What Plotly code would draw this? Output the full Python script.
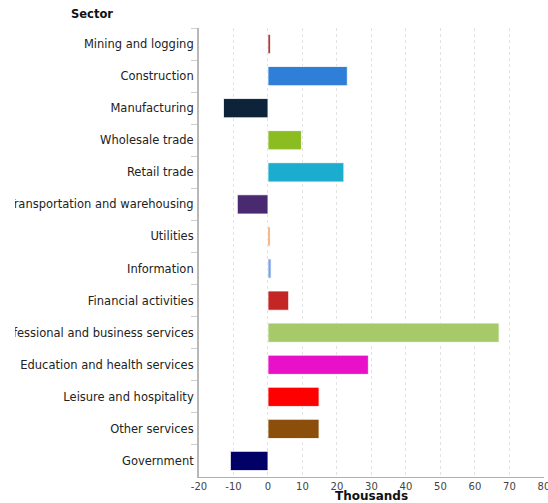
import plotly.graph_objects as go

sectors = ["Mining and logging", "Construction", "Manufacturing", "Wholesale trade",
           "Retail trade", "Transportation and warehousing", "Utilities", "Information",
           "Financial activities", "Professional and business services",
           "Education and health services", "Leisure and hospitality",
           "Other services", "Government"]
values = [0.7, 23.0, -12.9, 9.7, 22.0, -8.9, 0.6, 0.9, 6.0, 67.0, 29.1, 14.8, 14.8, -10.9]
colors = ["#a52a2a", "#2f7ed8", "#0d233a", "#8bbc21", "#1aadce", "#492970", "#f28f43",
          "#77a1e5", "#c42525", "#a6c96a", "#e810c8", "#ff0000", "#8b4e0b", "#000066"]
x_ticks = [-20, -10, 0, 10, 20, 30, 40, 50, 60, 70, 80]
x_tick_text = ["-20", "-10", "0", "10", "20", "30", "40", "50", "60", "70", "80"]

fig = go.Figure(go.Bar(
    y=sectors, x=values, orientation="h",
    marker=dict(color=colors, line=dict(color="rgba(255,255,255,0.8)", width=1)),
    width=0.6,
))

L, R, T, B = 199, 4, 28, 26
W, H = 548, 503
pw, ph = W - L - R, H - T - B

fig.update_layout(
    width=W, height=H,
    margin=dict(l=L, r=R, t=T, b=B, autoexpand=False),
    paper_bgcolor="white", plot_bgcolor="white",
    font=dict(family="DejaVu Sans", size=11.5, color="#222"),
    showlegend=False,
    bargap=0.4,
    xaxis=dict(range=[-20, 80.02], tickvals=x_ticks, ticktext=x_tick_text, showgrid=True,
               gridcolor="#e2e2e2", griddash="3px,3px", gridwidth=1,
               zeroline=False, showline=True, linecolor="#b0b0b0", linewidth=1,
               ticks="", tickfont=dict(size=10, color="#444"), automargin=False,
               ticklabeloverflow="allow"),
    yaxis=dict(categoryorder="array", categoryarray=sectors, autorange="reversed",
               showgrid=False, zeroline=False, showline=True, linecolor="#b8b8b8",
               linewidth=2, ticks="outside", ticklen=6, tickcolor="#d0d0d0",
               tickson="boundaries", tickfont=dict(size=11.5, color="#222"),
               ticklabelstandoff=1, automargin=False),
    shapes=[
        # the reference's label area is clipped a little inside the left edge
        dict(type="rect", xref="paper", yref="paper", layer="above",
             x0=-L / pw, x1=(15 - L) / pw, y0=0, y1=1,
             fillcolor="white", line=dict(width=0)),
    ],
    annotations=[
        dict(text="<b>Sector</b>", xref="paper", yref="paper",
             x=(69 - L) / pw, y=1 + (T - 14) / ph, xanchor="left", yanchor="middle",
             showarrow=False, font=dict(size=11.5, color="#111")),
        dict(text="<b>Thousands</b>", xref="paper", yref="paper",
             x=(371 - L) / pw, y=-(496.5 - (H - B)) / ph, xanchor="center", yanchor="middle",
             showarrow=False, font=dict(size=12, color="#111")),
    ],
)

fig.write_html("out.html")
